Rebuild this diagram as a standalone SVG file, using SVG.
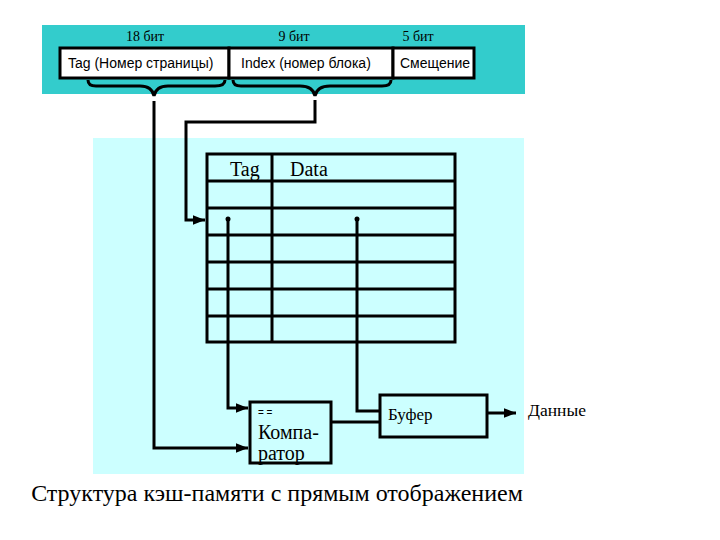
<svg xmlns="http://www.w3.org/2000/svg" width="720" height="540" viewBox="0 0 720 540">
<style>
.ln{fill:none;stroke:#000;stroke-width:3;stroke-linejoin:miter}
.bx{fill:#fff;stroke:#000;stroke-width:3}
.cb{fill:#ccffff;stroke:#000;stroke-width:3}
.serif{font-family:"Liberation Serif","Times New Roman",serif;fill:#000}
.sans{font-family:"Liberation Sans",Arial,sans-serif;fill:#000}
</style>
<defs>
<marker id="ah" viewBox="0 0 10 10" refX="10" refY="5" markerWidth="4" markerHeight="4" orient="auto" markerUnits="strokeWidth">
<path d="M0,1 L10,5 L0,9 z" fill="#000"/>
</marker>
</defs>
<rect x="0" y="0" width="720" height="540" fill="#fff"/>
<g id="address-band">
<rect x="42" y="25" width="483" height="69" fill="#33cccc"/>
<text class="serif" x="145" y="41" font-size="14" text-anchor="middle">18 бит</text>
<text class="serif" x="294" y="41" font-size="14" text-anchor="middle">9 бит</text>
<text class="serif" x="418" y="41" font-size="14" text-anchor="middle">5 бит</text>
</g>
<g id="tag-field">
<rect class="bx" x="60" y="48" width="169" height="30"/>
<text class="sans" x="68" y="68" font-size="14">Tag (Номер страницы)</text>
</g>
<g id="index-field">
<rect class="bx" x="229" y="48" width="164" height="30"/>
<text class="sans" x="241" y="68" font-size="14">Index (номер блока)</text>
</g>
<g id="offset-field">
<rect class="bx" x="393" y="48" width="81" height="30"/>
<text class="sans" x="400" y="68" font-size="14">Смещение</text>
</g>
<g id="braces">
<path class="ln" d="M88,80 Q88,86 96,86 L140,86 Q152,86 154,96 Q156,86 168,86 L215,86 Q225,86 225,80"/>
<path class="ln" d="M233,80 Q233,86 241,86 L300,86 Q313,86 315,96 Q317,86 330,86 L382,86 Q391,86 391,80"/>
</g>
<g id="cache-area">
<rect x="93" y="138" width="431" height="336" fill="#ccffff"/>
</g>
<g id="cache-table">
<rect x="207" y="154" width="248" height="188" fill="none" stroke="#000" stroke-width="3"/>
<line class="ln" x1="272" y1="154" x2="272" y2="342"/>
<line class="ln" x1="207" y1="181" x2="455" y2="181"/>
<line class="ln" x1="207" y1="208" x2="455" y2="208"/>
<line class="ln" x1="207" y1="235" x2="455" y2="235"/>
<line class="ln" x1="207" y1="262" x2="455" y2="262"/>
<line class="ln" x1="207" y1="289" x2="455" y2="289"/>
<line class="ln" x1="207" y1="316" x2="455" y2="316"/>
<text class="serif" x="230" y="176" font-size="20">Tag</text>
<text class="serif" x="290" y="176" font-size="20">Data</text>
</g>
<g id="comparator">
<rect class="cb" x="250" y="402" width="81" height="61"/>
<text class="sans" x="258" y="416" font-size="10">= =</text>
<text class="serif" x="258" y="439" font-size="20">Компа-</text>
<text class="serif" x="258" y="460" font-size="20">ратор</text>
</g>
<g id="buffer">
<rect class="cb" x="380" y="395" width="107" height="42"/>
<text class="serif" x="388" y="420" font-size="17">Буфер</text>
</g>
<g id="output-label">
<text class="serif" x="528" y="416" font-size="17.5">Данные</text>
</g>
<g id="connectors">
<path class="ln" d="M154,101 L154,448 L248,448" marker-end="url(#ah)"/>
<path class="ln" d="M315,100 L315,122 L186,122 L186,220 L205,220" marker-end="url(#ah)"/>
<circle cx="228" cy="219" r="2.5" fill="#000"/>
<circle cx="357" cy="219" r="2.5" fill="#000"/>
<path class="ln" d="M228,219 L228,408 L248,408" marker-end="url(#ah)"/>
<path class="ln" d="M357,219 L357,411 L380,411"/>
<path class="ln" d="M331,422 L380,422"/>
<path class="ln" d="M487,413 L516,413" marker-end="url(#ah)"/>
</g>
<g id="title">
<text class="serif" x="277" y="501" font-size="24" text-anchor="middle">Структура кэш-памяти с прямым отображением</text>
</g>
</svg>
